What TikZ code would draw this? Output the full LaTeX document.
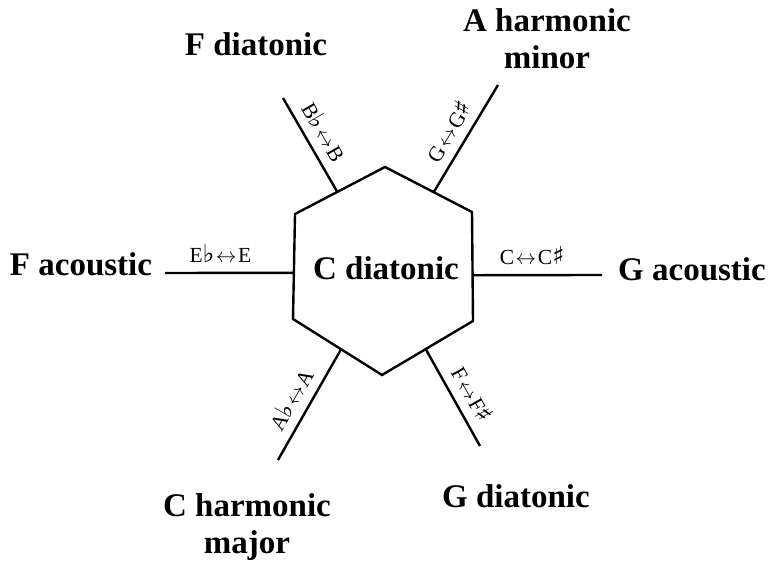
\documentclass[tikz,border=0pt]{standalone}
\usepackage{fontspec}
\setmainfont{Liberation Serif}
\newfontfamily\symbfont{DejaVu Sans}
\newcommand{\toggle}{\kern1.5pt$\leftrightarrow$\kern1.5pt}
\newcommand{\fl}{{\symbfont\fontsize{25}{28}\selectfont ♭}}
\newcommand{\sh}{{\symbfont\fontsize{25}{28}\selectfont ♯}}
\usetikzlibrary{calc}
\begin{document}
\begin{tikzpicture}[x=1pt,y=-1pt,line width=2.4pt,
    scalename/.style={font=\fontsize{33}{37}\selectfont\bfseries,align=center,inner sep=0pt},
    noteswap/.style={font=\fontsize{21.5}{24}\selectfont,sloped,above=8pt,inner sep=1pt,text depth=0pt}]
  \useasboundingbox (0,0) rectangle (769,564);
  % hexagon corners
  \coordinate (top) at (385,167);
  \coordinate (ur) at (472,212);
  \coordinate (lr) at (473,321);
  \coordinate (bot) at (382,375);
  \coordinate (ll) at (293,319);
  \coordinate (ul) at (295,214);
  \draw (top) -- (ur) -- (lr) -- (bot) -- (ll) -- (ul) -- cycle;
  \node[scalename,anchor=base] (Cdia) at (386,280) {C diatonic};
  % where the spokes leave the hexagon
  \coordinate (inFd) at ($(ul)!0.47!(top)$);
  \coordinate (inAh) at ($(top)!0.56!(ur)$);
  \coordinate (inGa) at ($(ur)!0.58!(lr)$);
  \coordinate (inGd) at ($(bot)!0.48!(lr)$);
  \coordinate (inCh) at ($(ll)!0.54!(bot)$);
  \coordinate (inFa) at ($(ul)!0.56!(ll)$);
  \coordinate (outFd) at (283,98);
  \coordinate (outAh) at (498,85);
  \coordinate (outGa) at (602,275);
  \coordinate (outGd) at (480,446);
  \coordinate (outCh) at (278,460);
  \coordinate (outFa) at (165,273);
  \node[scalename,anchor=base] (Fdia) at (256,56) {F diatonic};
  \node[scalename,anchor=base] (Aharm) at (547,69) {A harmonic\\minor};
  \node[scalename,anchor=base] (Gac) at (692,281) {G acoustic};
  \node[scalename,anchor=base] (Gdia) at (516,507) {G diatonic};
  \node[scalename,anchor=base] (Charm) at (247,553) {C harmonic\\major};
  \node[scalename,anchor=base] (Fac) at (81,276) {F acoustic};
  % spokes with the note that changes
  \foreach \from/\to/\where/\change in {inFd/outFd/0.54/{B\fl\toggle B},
      inAh/outAh/0.48/{G\toggle G\sh},inGa/outGa/0.46/{C\toggle C\sh},
      inGd/outGd/0.56/{F\toggle F\sh},inCh/outCh/0.54/{A\fl\toggle A},
      inFa/outFa/0.57/{E\fl\toggle E}}{
    \draw (\from) -- node[noteswap,pos=\where] {\change} (\to);
  }
\end{tikzpicture}
\end{document}
